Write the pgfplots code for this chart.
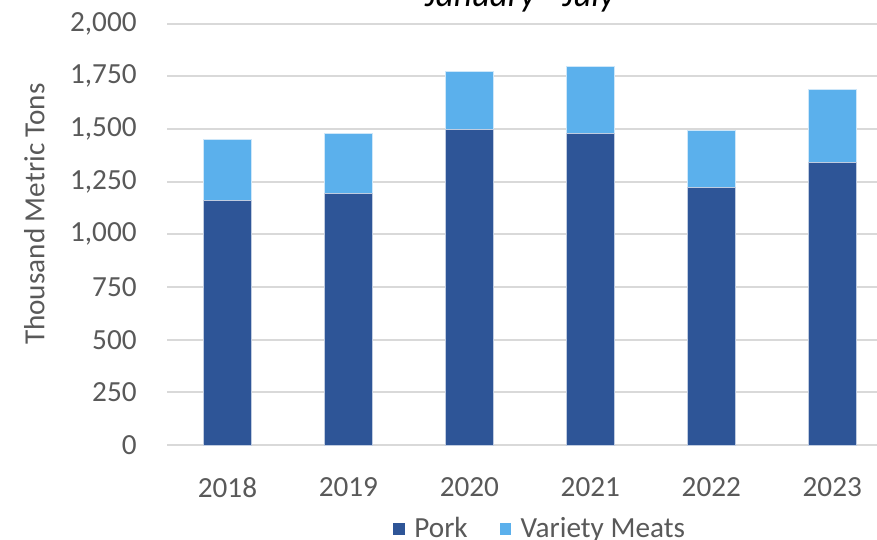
\documentclass[border=0pt]{standalone}
\usepackage{pgfplots}
\pgfplotsset{compat=1.18}
\usepackage{fontspec}
\setmainfont{Carlito}
\definecolor{pork}{RGB}{46,85,151}
\definecolor{variety}{RGB}{91,176,236}
\definecolor{txt}{RGB}{89,89,89}
\definecolor{grd}{RGB}{217,217,217}
\begin{document}
\begin{tikzpicture}
\useasboundingbox (0,0) rectangle (438.5pt,270pt);
\begin{axis}[
  at={(83.5pt,47.5pt)}, anchor=south west,
  scale only axis, width=355pt, height=210.7pt,
  ybar stacked, bar width=24pt,
  xmin=-0.5, xmax=5.37, ymin=0, ymax=2000,
  xtick=data, xticklabels={2018,2019,2020,2021,2022,2023},
  ytick={0,250,...,2000},
  axis line style={draw=none},
  major tick length=0pt,
  ymajorgrids, grid style={grd, line width=1pt},
  /pgf/number format/assume math mode=true,
  /pgf/number format/1000 sep={,},
  ticklabel style={font=\fontsize{14.6}{17}\selectfont, text=txt},
  yticklabel style={anchor=east, inner sep=0pt, xshift=-15pt},
  xticklabel style={anchor=north, inner sep=0pt, yshift=-16pt},
  every axis y label/.style={at={(axis description cs:-0.187,0.548)}, rotate=90, anchor=center, font=\fontsize{14.6}{17}\selectfont, text=txt},
  ylabel={Thousand Metric Tons},
  legend columns=2,
  legend style={at={(axis description cs:0.527,-0.2)}, anchor=center, draw=none, fill=none,
    font=\fontsize{14.6}{17}\selectfont, text=txt,
    /tikz/every even column/.append style={column sep=14pt}},
  legend image code/.code={\path[#1, draw=none] (0pt,-2.9pt) rectangle (5.8pt,2.9pt); \path[draw=none, fill=none] (0pt,0pt) -- (8.5pt,0pt);},
]
\addplot[fill=pork, draw=white!70!pork, line width=0.3pt] coordinates {(0,1159) (1,1193) (2,1498) (3,1479) (4,1223) (5,1340)};
\addplot[fill=variety, draw=white!70!variety, line width=0.3pt] coordinates {(0,290) (1,286) (2,277) (3,318) (4,269) (5,346)};
\legend{Pork, Variety Meats}
\end{axis}
\node[anchor=base, font=\fontsize{17.5}{20}\selectfont\itshape] at (260pt,266.75pt) {January - July};
\end{tikzpicture}
\end{document}
